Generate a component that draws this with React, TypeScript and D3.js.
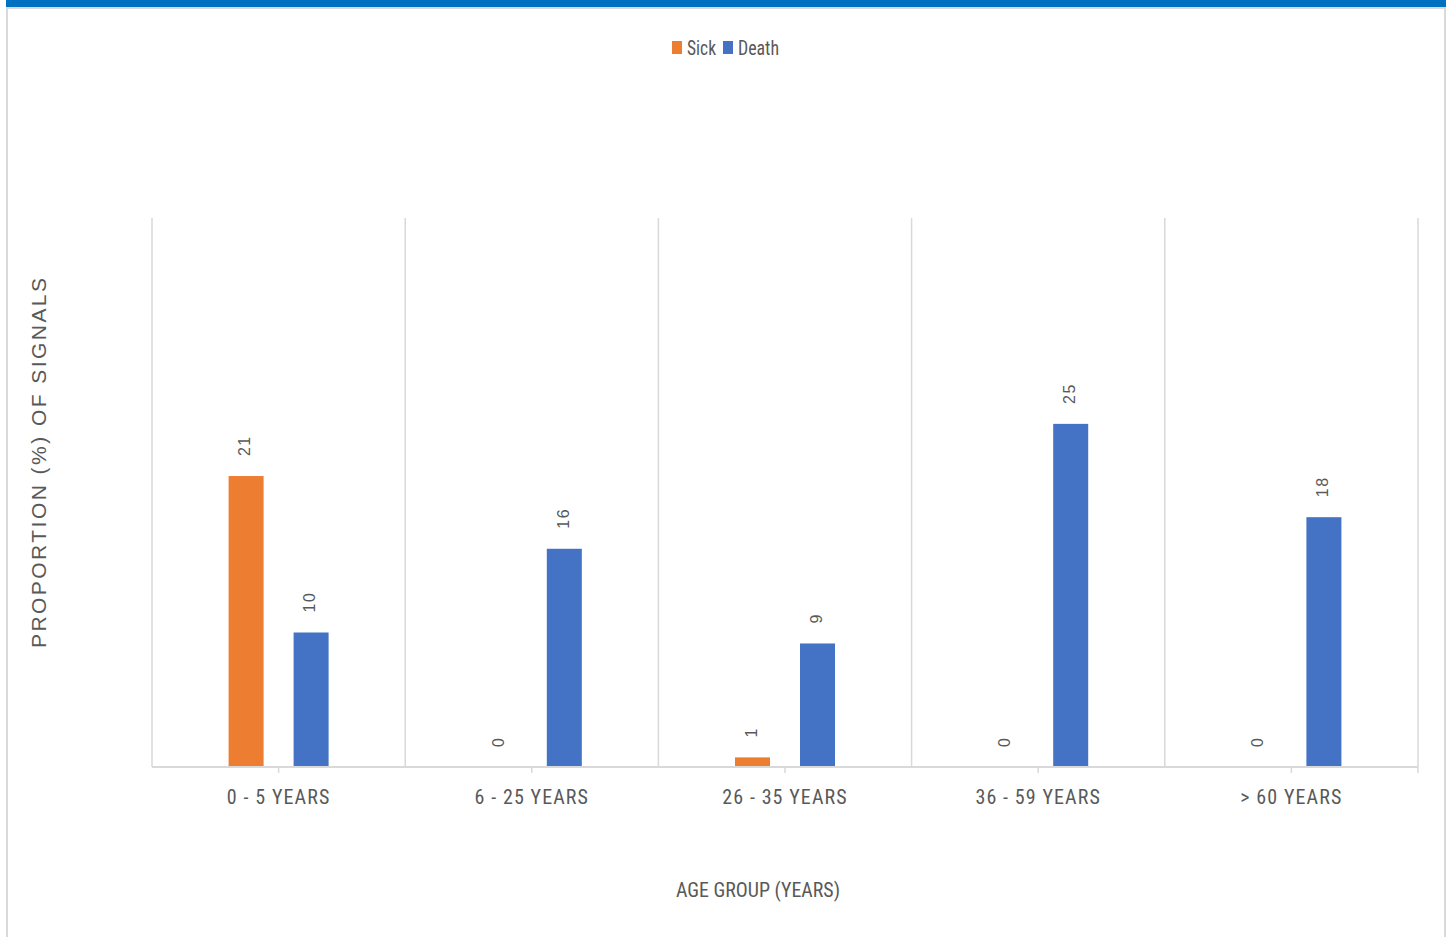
import React from 'react';
import * as d3 from 'd3';

const categories = ['0 - 5 YEARS', '6 - 25 YEARS', '26 - 35 YEARS', '36 - 59 YEARS', '> 60 YEARS'];
const seriesNames = ['Sick', 'Death'];
const sickValues = [21.2, 0, 0.7, 0, 0];
const deathValues = [9.8, 15.9, 9.0, 25.0, 18.2];
const seriesColors = ['#ED7D31', '#4472C4'];

const W = 1451;
const H = 937;
const plot = { left: 152, right: 1418, top: 218, bottom: 767 };

const App = () => {
  const xScale = d3.scaleBand<string>()
    .domain(categories)
    .range([plot.left, plot.right]);

  const yScale = d3.scaleLinear()
    .domain([0, 40])
    .range([plot.bottom, plot.top]);

  // two bars, 35px wide with a 30px gap, centred in each category
  const inner = d3.scaleBand<string>()
    .domain(seriesNames)
    .range([-50, 50])
    .paddingInner(30 / 65);

  const series = [sickValues, deathValues];
  const fmt = d3.format('.0f');
  const grid = [...categories.map((c) => xScale(c) as number), plot.right];
  const gray = '#d9d9d9';
  const textGray = '#595959';
  const narrow = '"Liberation Sans Narrow", "Roboto Condensed", Roboto, sans-serif';

  return (
    <div style={{ position: 'fixed', left: 0, top: 0, width: W, height: H, background: '#fff' }}>
      <svg width={W} height={H}>
        {/* frame */}
        <rect x={7} y={8} width={1438} height={H} fill="#fff" stroke={gray} strokeWidth={2} />
        <rect x={6} y={0} width={1440} height={7} fill="#0070C0" />

        {/* legend */}
        <g fontFamily={narrow} fontSize={20} fill={textGray}>
          <rect x={672} y={41} width={10} height={13} fill={seriesColors[0]} />
          <text x={687} y={55} textLength={29} lengthAdjust="spacingAndGlyphs">Sick</text>
          <rect x={723} y={41} width={10} height={13} fill={seriesColors[1]} />
          <text x={738} y={55} textLength={41} lengthAdjust="spacingAndGlyphs">Death</text>
        </g>

        {/* gridlines */}
        {grid.map((x, i) => (
          <line key={i} x1={x} x2={x} y1={plot.top} y2={plot.bottom} stroke={gray} strokeWidth={1.5} />
        ))}

        {/* bars */}
        {categories.map((c, ci) => {
          const cx = (xScale(c) as number) + xScale.bandwidth() / 2;
          return (
            <g key={c}>
              {seriesNames.map((s, si) => {
                const v = series[si][ci];
                const x = cx + (inner(s) as number);
                const y = yScale(v);
                const lx = x + inner.bandwidth() / 2;
                return (
                  <g key={s}>
                    {v > 0 && (
                      <rect x={x} y={y} width={inner.bandwidth()} height={plot.bottom - y} fill={seriesColors[si]} />
                    )}
                    <text
                      transform={`translate(${lx}, ${y - 20}) rotate(-90)`}
                      fontFamily="'Liberation Sans', Arial, sans-serif"
                      fontSize={16}
                      letterSpacing={1.5}
                      fill={textGray}
                      dominantBaseline="middle"
                    >
                      {fmt(v)}
                    </text>
                  </g>
                );
              })}
            </g>
          );
        })}

        {/* x axis */}
        <line x1={plot.left} x2={plot.right} y1={plot.bottom} y2={plot.bottom} stroke={gray} strokeWidth={2} />
        {[...categories.map((c) => (xScale(c) as number) + xScale.bandwidth() / 2), plot.right].map((x, i) => (
          <line key={i} x1={x} x2={x} y1={plot.bottom} y2={plot.bottom + 6} stroke={gray} strokeWidth={1.5} />
        ))}
        {categories.map((c) => (
          <text
            key={c}
            x={(xScale(c) as number) + xScale.bandwidth() / 2}
            y={804}
            textAnchor="middle"
            fontFamily={narrow}
            fontSize={20}
            letterSpacing={1.1}
            fill={textGray}
          >
            {c}
          </text>
        ))}

        {/* axis titles */}
        <text
          x={758}
          y={897}
          textAnchor="middle"
          fontFamily={narrow}
          fontSize={21}
          fill={textGray}
          textLength={164}
          lengthAdjust="spacingAndGlyphs"
        >
          AGE GROUP (YEARS)
        </text>
        <text
          transform="translate(46, 463) rotate(-90)"
          textAnchor="middle"
          fontFamily="'Liberation Sans', Arial, sans-serif"
          fontSize={21}
          fill={textGray}
          textLength={370}
          lengthAdjust="spacing"
        >
          PROPORTION (%) OF SIGNALS
        </text>
      </svg>
    </div>
  );
};

export default App;
